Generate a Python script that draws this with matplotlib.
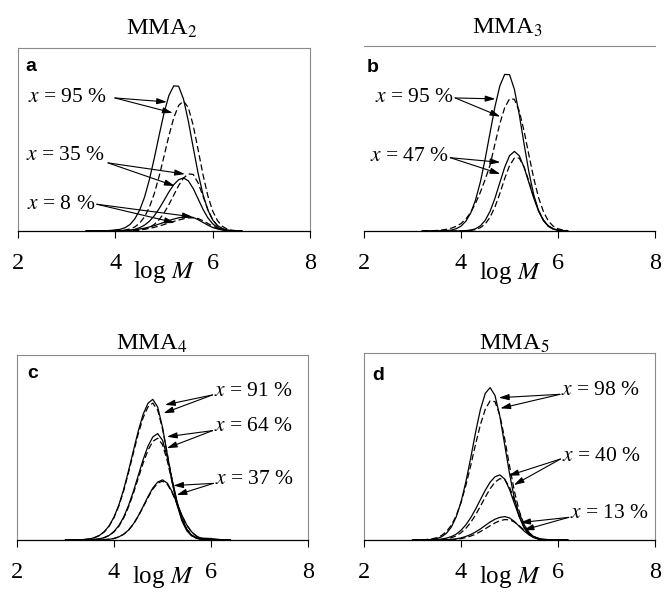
import matplotlib.pyplot as plt

plt.rcParams['font.family'] = 'Liberation Serif'
plt.rcParams['mathtext.fontset'] = 'stix'

# ---- data: GPC curves (log M grid, normalised heights as fraction of panel) ----
logm_a = [3.4, 3.5, 3.6, 3.7, 3.8, 3.9, 4.0, 4.1, 4.2, 4.3, 4.4, 4.5, 4.6, 4.7, 4.8, 4.9, 5.0,
          5.1, 5.2, 5.3, 5.4, 5.5, 5.6, 5.7, 5.8, 5.9, 6.0, 6.1, 6.2, 6.3, 6.4, 6.5, 6.6]
a95_solid = [0, 0, 0, 0, .001, .003, .006, .009, .018, .035, .066, .114, .185, .281, .397, .523, .644,
             .740, .793, .791, .721, .600, .456, .316, .200, .115, .060, .029, .013, .005, .002, 0, 0]
a95_dash = [0, 0, 0, 0, 0, 0, .001, .002, .005, .011, .022, .043, .077, .130, .204, .299, .408,
            .520, .618, .686, .710, .674, .577, .445, .309, .193, .109, .056, .025, .010, .004, .001, 0]
a35_solid = [0, 0, 0, 0, 0, 0, 0, .001, .002, .004, .009, .018, .032, .053, .083, .122, .167,
             .213, .253, .280, .290, .274, .232, .176, .119, .072, .039, .019, .008, .003, .001, 0, 0]
a35_dash = [0, 0, 0, 0, 0, 0, 0, 0, 0, .001, .002, .004, .010, .019, .036, .062, .098,
            .144, .196, .248, .289, .312, .309, .263, .191, .118, .062, .028, .011, .003, .001, 0, 0]
a8_solid = [0, 0, 0, 0, 0, 0, .001, .002, .003, .004, .007, .011, .015, .022, .029, .038, .047,
            .057, .065, .072, .076, .078, .074, .062, .047, .032, .019, .011, .005, .002, .001, 0, 0]
a8_dash = [0, 0, 0, 0, 0, 0, 0, .001, .001, .002, .004, .006, .010, .014, .020, .027, .035,
           .044, .052, .060, .066, .071, .072, .068, .056, .041, .026, .015, .007, .003, .001, 0, 0]

logm_b = [3.2, 3.3, 3.4, 3.5, 3.6, 3.7, 3.8, 3.9, 4.0, 4.1, 4.2, 4.3, 4.4, 4.5, 4.6, 4.7,
          4.8, 4.9, 5.0, 5.1, 5.2, 5.3, 5.4, 5.5, 5.6, 5.7, 5.8, 5.9, 6.0, 6.1, 6.2]
b95_solid = [0, 0, 0, 0, .001, .002, .005, .012, .026, .053, .097, .168, .266, .392, .533, .672,
             .784, .846, .845, .766, .630, .470, .318, .195, .109, .055, .025, .010, .004, .001, 0]
b95_dash = [0, 0, .001, .003, .005, .009, .015, .025, .040, .065, .100, .150, .210, .280, .357, .471,
            .580, .666, .714, .712, .649, .540, .410, .284, .179, .104, .054, .026, .012, .005, .002]
b47_solid = [0, 0, 0, 0, 0, 0, 0, 0, .001, .002, .005, .012, .028, .058, .107, .177,
             .261, .344, .407, .430, .407, .344, .261, .177, .107, .058, .028, .012, .005, .002, .001]
b47_dash = [0, 0, 0, 0, 0, 0, 0, 0, 0, .001, .003, .007, .018, .038, .075, .130,
            .202, .283, .353, .394, .394, .346, .268, .183, .110, .058, .027, .011, .004, .001, 0]

logm_c = [3.0, 3.1, 3.2, 3.3, 3.4, 3.5, 3.6, 3.7, 3.8, 3.9, 4.0, 4.1, 4.2, 4.3, 4.4, 4.5, 4.6, 4.7,
          4.8, 4.9, 5.0, 5.1, 5.2, 5.3, 5.4, 5.5, 5.6, 5.7, 5.8, 5.9, 6.0, 6.1, 6.2, 6.3, 6.4]
c91_solid = [0, 0, .001, .001, .003, .006, .013, .025, .045, .077, .124, .189, .274, .375, .483, .589, .679, .739,
             .760, .719, .609, .461, .312, .189, .103, .050, .022, .012, .010, .009, .008, .005, .002, .001, 0]
c91_dash = [0, 0, 0, .001, .003, .006, .013, .024, .044, .075, .121, .184, .266, .365, .471, .574, .661, .719,
            .740, .702, .601, .463, .322, .201, .114, .058, .027, .011, .004, .001, 0, 0, 0, 0, 0]
c64_solid = [0, 0, 0, 0, .001, .001, .003, .006, .013, .025, .046, .078, .124, .187, .263, .349, .434, .507,
             .557, .575, .539, .446, .324, .207, .117, .058, .025, .010, .003, .001, 0, 0, 0, 0, 0]
c64_dash = [0, 0, 0, 0, 0, .001, .003, .006, .013, .024, .044, .074, .119, .179, .252, .334, .415, .485,
            .533, .550, .516, .426, .310, .198, .112, .056, .024, .009, .003, .001, 0, 0, 0, 0, 0]
c37_solid = [0, 0, 0, 0, 0, 0, 0, .001, .002, .004, .008, .017, .031, .054, .087, .130, .181, .234,
             .281, .313, .325, .307, .260, .197, .134, .081, .044, .021, .009, .004, .001, 0, 0, 0, 0]
c37_dash = [0, 0, 0, 0, 0, 0, 0, .001, .002, .004, .008, .017, .031, .053, .085, .128, .177, .229,
            .275, .307, .318, .301, .255, .193, .131, .079, .043, .021, .009, .003, .001, 0, 0, 0, 0]

logm_d = [3.0, 3.1, 3.2, 3.3, 3.4, 3.5, 3.6, 3.7, 3.8, 3.9, 4.0, 4.1, 4.2, 4.3, 4.4, 4.5, 4.6,
          4.7, 4.8, 4.9, 5.0, 5.1, 5.2, 5.3, 5.4, 5.5, 5.6, 5.7, 5.8, 5.9, 6.0, 6.1, 6.2]
d98_solid = [0, 0, 0, .001, .003, .008, .017, .036, .069, .123, .203, .311, .439, .576, .698, .784, .815,
             .773, .662, .510, .355, .222, .126, .064, .029, .012, .004, .001, 0, 0, 0, 0, 0]
d98_dash = [0, 0, .001, .003, .006, .012, .024, .045, .079, .129, .200, .292, .398, .512, .617, .699, .744,
            .740, .668, .542, .397, .261, .155, .083, .040, .018, .007, .002, .001, 0, 0, 0, 0]
d40_solid = [0, 0, 0, 0, .001, .002, .005, .010, .018, .031, .052, .081, .119, .165, .216, .266, .309,
             .338, .348, .326, .270, .196, .125, .071, .035, .015, .006, .002, .001, 0, 0, 0, 0]
d40_dash = [0, 0, 0, 0, .001, .001, .003, .006, .012, .022, .039, .062, .094, .134, .181, .229, .274,
            .309, .328, .324, .283, .215, .143, .082, .041, .018, .007, .002, .001, 0, 0, 0, 0]
d13_solid = [0, 0, 0, 0, 0, 0, .001, .002, .003, .006, .011, .019, .029, .043, .059, .078, .096,
             .111, .121, .125, .118, .099, .073, .048, .028, .015, .007, .003, .001, 0, 0, 0, 0]
d13_dash = [0, 0, 0, 0, 0, 0, 0, .001, .002, .004, .007, .013, .021, .031, .045, .060, .076,
            .091, .103, .109, .108, .096, .076, .053, .033, .018, .009, .004, .002, .001, 0, 0, 0]

# conversion labels, label anchor, arrow start, two arrow tips (solid, dashed)
labels_a = ['95', '35', '8']
text_a = [(3.83, 0.732), (3.80, 0.415), (3.60, 0.142)]
start_a = [(3.99, 0.727), (3.85, 0.372), (3.62, 0.146)]
tips_a = [[(5.06, 0.705), (5.18, 0.645)], [(5.43, 0.311), (5.22, 0.246)], [(5.59, 0.077), (5.22, 0.045)]]

labels_b = ['95', '47']
text_b = [(3.86, 0.719), (3.75, 0.400)]
start_b = [(3.88, 0.719), (3.78, 0.396)]
tips_b = [[(4.71, 0.714), (4.81, 0.618)], [(4.81, 0.371), (4.81, 0.308)]]

labels_c = ['91', '64', '37']
text_c = [(6.06, 0.805), (6.06, 0.612), (6.08, 0.326)]
start_c = [(6.03, 0.784), (6.03, 0.591), (6.05, 0.306)]
tips_c = [[(5.05, 0.730), (5.02, 0.685)], [(5.09, 0.558), (5.09, 0.496)], [(5.22, 0.294), (5.29, 0.243)]]

labels_d = ['98', '40', '13']
text_d = [(6.06, 0.800), (6.08, 0.446), (6.25, 0.144)]
start_d = [(6.04, 0.779), (6.05, 0.433), (6.22, 0.121)]
tips_d = [[(4.78, 0.761), (4.81, 0.704)], [(4.98, 0.344), (5.09, 0.294)], [(5.22, 0.093), (5.29, 0.053)]]

xticks = [2, 4, 6, 8]


def panel(rect, x, solids, dashes, labels, texts, starts, tips, ha, letter, letter_xy,
          box=True, xlabel_y=-0.225):
    ax = fig.add_axes(rect)
    for s in solids:
        ax.plot(x, s, color='k', lw=0.9)
    for d in dashes:
        ax.plot(x, d, color='k', lw=0.9, linestyle=(0, (5, 2.5)))
    ax.set_xlim(2, 8)
    ax.set_ylim(0, 1)
    ax.set_xticks(xticks)
    ax.set_yticks([])
    ax.tick_params(axis='x', length=5, width=0.8, pad=11, labelsize=17.5)
    for side in ['left', 'top', 'right']:
        ax.spines[side].set_color('#8a8a8a')
        ax.spines[side].set_linewidth(0.8)
    if not box:
        ax.spines['left'].set_visible(False)
        ax.spines['right'].set_visible(False)
    ax.spines['bottom'].set_linewidth(0.9)
    for lab, txy, sxy, tp in zip(labels, texts, starts, tips):
        ax.text(txy[0], txy[1], '$x$ = ' + lab + ' %', ha=ha, va='center', fontsize=15.5)
        for t in tp:
            ax.annotate('', xy=t, xytext=sxy,
                        arrowprops=dict(arrowstyle='-|>,head_length=0.6,head_width=0.18',
                                        color='k', lw=0.8, shrinkA=0, shrinkB=0))
    ax.text(letter_xy[0], letter_xy[1], letter, transform=ax.transAxes, family='Liberation Sans',
            fontweight='bold', fontsize=14, va='baseline', ha='left')
    ax.text(0.5, xlabel_y, 'log $M$', transform=ax.transAxes, ha='center', va='center', fontsize=18)
    return ax


fig = plt.figure(figsize=(6.64, 5.93), dpi=100)

panel([0.0271, 0.6105, 0.4398, 0.3086], logm_a,
      [a95_solid, a35_solid, a8_solid], [a95_dash, a35_dash, a8_dash],
      labels_a, text_a, start_a, tips_a, 'right', 'a', (0.024, 0.876))
panel([0.5482, 0.6105, 0.4383, 0.3120], logm_b,
      [b95_solid, b47_solid], [b95_dash, b47_dash],
      labels_b, text_b, start_b, tips_b, 'right', 'b', (0.010, 0.861), box=False)
panel([0.0256, 0.0894, 0.4383, 0.3120], logm_c,
      [c91_solid, c64_solid, c37_solid], [c91_dash, c64_dash, c37_dash],
      labels_c, text_c, start_c, tips_c, 'left', 'c', (0.034, 0.874), xlabel_y=-0.2)
panel([0.5482, 0.0894, 0.4383, 0.3153], logm_d,
      [d98_solid, d40_solid, d13_solid], [d98_dash, d40_dash, d13_dash],
      labels_d, text_d, start_d, tips_d, 'left', 'd', (0.027, 0.856), xlabel_y=-0.2)

fig.text(0.2435, 0.941, 'MMA$_2$', ha='center', va='baseline', fontsize=17.5)
fig.text(0.7636, 0.944, 'MMA$_3$', ha='center', va='baseline', fontsize=17.5)
fig.text(0.229, 0.410, 'MMA$_4$', ha='center', va='baseline', fontsize=17.5)
fig.text(0.774, 0.410, 'MMA$_5$', ha='center', va='baseline', fontsize=17.5)

fig.savefig('out.png', dpi=100)
